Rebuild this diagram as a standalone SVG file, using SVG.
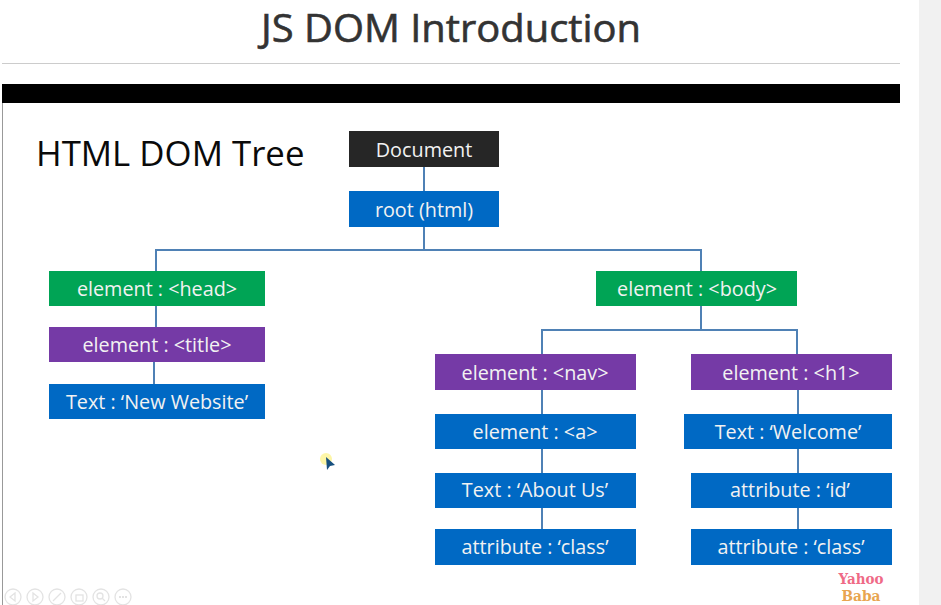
<svg xmlns="http://www.w3.org/2000/svg" width="941" height="605" viewBox="0 0 941 605">
<style>
.n{font:19.8px "Open Sans",sans-serif;fill:#f2f2f2;text-anchor:middle}
.b{fill:#0069c4}.g{fill:#00a455}.p{fill:#753aa6}.k{fill:#262626}
.c{fill:none;stroke:#4f81b5;stroke-width:2}
.u{fill:none;stroke:#e3e3e3;stroke-width:1.3}
</style>
<rect width="941" height="605" fill="#fff"/>
<rect x="919" width="22" height="605" fill="#f1f1f1"/>
<text x="451" y="42" font-family="'Open Sans',sans-serif" font-size="38.5" fill="#333" stroke="#333" stroke-width=".6" text-anchor="middle" textLength="380" lengthAdjust="spacingAndGlyphs">JS DOM Introduction</text>
<rect x="2" y="63" width="898" height="1" fill="#ccc"/>
<rect x="2" y="84" width="898" height="19" fill="#000"/>
<rect x="2" y="103" width="1" height="502" fill="#999"/>
<text x="36" y="166" font-family="'Open Sans',sans-serif" font-size="34.8" fill="#0a0a0a">HTML DOM Tree</text>
<g id="connectors">
<path class="c" d="M424 167V191M424 227V250M156 271V250H701V271M701 306V330M542 354V330H797V354M156 306V327M154 362V384M542 390V414M798 390V414M542 449V473M798 449V473M542 508V529M798 508V529"/>
</g>
<g id="document"><rect class="k" x="349" y="131" width="150" height="36"/><text class="n" x="424" y="157">Document</text></g>
<g id="root"><rect class="b" x="349" y="191" width="150" height="36"/><text class="n" x="424" y="217">root (html)</text></g>
<g id="head"><rect class="g" x="49" y="271" width="216" height="35"/><text class="n" x="157" y="296">element : &lt;head&gt;</text></g>
<g id="title"><rect class="p" x="49" y="327" width="216" height="35"/><text class="n" x="157" y="352">element : &lt;title&gt;</text></g>
<g id="text-new-website"><rect class="b" x="49" y="384" width="216" height="35"/><text class="n" x="157" y="409">Text : ‘New Website’</text></g>
<g id="body"><rect class="g" x="596" y="271" width="201" height="35"/><text class="n" x="697" y="296">element : &lt;body&gt;</text></g>
<g id="nav"><rect class="p" x="435" y="354" width="201" height="36"/><text class="n" x="535" y="380">element : &lt;nav&gt;</text></g>
<g id="h1"><rect class="p" x="691" y="354" width="201" height="36"/><text class="n" x="791" y="380">element : &lt;h1&gt;</text></g>
<g id="a"><rect class="b" x="435" y="414" width="201" height="35"/><text class="n" x="535" y="439">element : &lt;a&gt;</text></g>
<g id="text-welcome"><rect class="b" x="684" y="414" width="208" height="35"/><text class="n" x="788" y="439">Text : ‘Welcome’</text></g>
<g id="text-about"><rect class="b" x="435" y="473" width="201" height="35"/><text class="n" x="535" y="497">Text : ‘About Us’</text></g>
<g id="attr-id"><rect class="b" x="691" y="473" width="201" height="35"/><text class="n" x="790" y="497">attribute : ‘id’</text></g>
<g id="attr-class-1"><rect class="b" x="435" y="529" width="201" height="36"/><text class="n" x="535" y="554">attribute : ‘class’</text></g>
<g id="attr-class-2"><rect class="b" x="691" y="529" width="201" height="36"/><text class="n" x="791" y="554">attribute : ‘class’</text></g>
<circle cx="326" cy="459" r="6" fill="#fdf6a8"/>
<path d="M326 457L335 465L330 466L327 470Z" fill="#17507f"/>
<g id="controls">
<circle class="u" cx="13" cy="597" r="8"/><path class="u" d="M15 593L10 597L15 601Z"/>
<circle class="u" cx="35" cy="597" r="8"/><path class="u" d="M33 593L38 597L33 601Z"/>
<circle class="u" cx="57" cy="597" r="8"/><path class="u" d="M53 601L61 593"/>
<circle class="u" cx="79" cy="597" r="8"/><rect class="u" x="76" y="595" width="7" height="6"/>
<circle class="u" cx="101" cy="597" r="8"/><circle class="u" cx="100" cy="596" r="3"/><path class="u" d="M102 598L105 601"/>
<circle class="u" cx="123" cy="597" r="8"/><path d="M119 597h8" stroke="#e3e3e3" stroke-width="2" stroke-dasharray="2 1"/>
</g>
<text x="861" y="584" font-family="'DejaVu Serif',serif" font-size="15" font-weight="700" fill="#ef6a86" text-anchor="middle" textLength="45" lengthAdjust="spacingAndGlyphs">Yahoo</text>
<text x="861" y="601" font-family="'DejaVu Serif',serif" font-size="14" font-weight="700" fill="#e8a550" text-anchor="middle" textLength="39" lengthAdjust="spacingAndGlyphs">Baba</text>
</svg>
